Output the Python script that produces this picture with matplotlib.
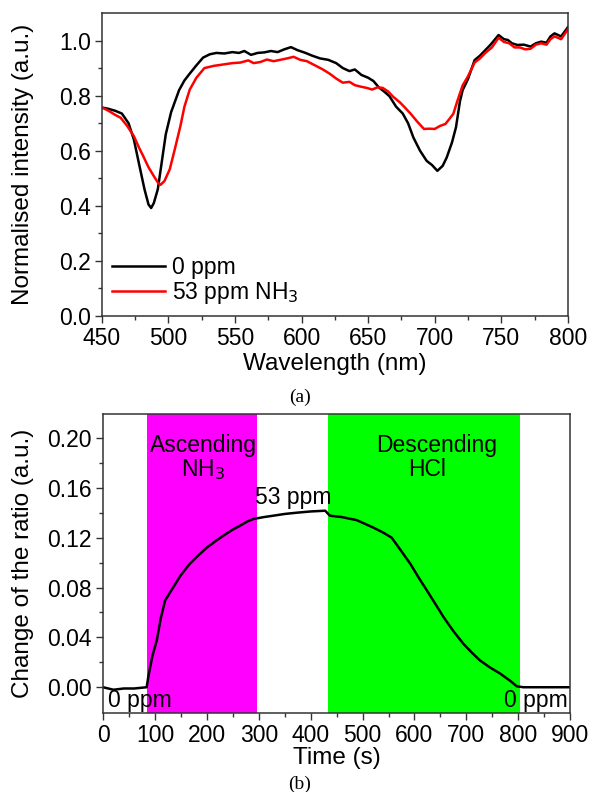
import numpy as np
import matplotlib
matplotlib.use("Agg")
import matplotlib.pyplot as plt

plt.rcParams['font.family'] = ['Liberation Sans', 'DejaVu Sans']

# (a) spectra
wl_0ppm = [450, 455, 460, 465, 470, 474, 478, 482, 485, 487, 489, 492, 495, 498, 502, 508, 512, 516, 521, 526,
           531, 536, 542, 548, 553, 557, 562, 567, 572, 577, 582, 587, 592, 597, 603, 608, 614, 620, 626, 631,
           636, 640, 645, 650, 654, 658, 662, 666, 671, 676, 680, 684, 689, 694, 698, 702, 706, 709, 713, 716,
           719, 721, 725, 730, 734, 737, 742, 748, 752, 755, 758, 762, 767, 772, 776, 780, 784, 787, 790, 795, 800]
int_0ppm = [0.757, 0.752, 0.745, 0.735, 0.70, 0.641, 0.55, 0.46, 0.405, 0.392, 0.41, 0.46, 0.56, 0.66, 0.74, 0.82,
            0.855, 0.88, 0.91, 0.938, 0.95, 0.955, 0.953, 0.958, 0.955, 0.962, 0.948, 0.955, 0.957, 0.962, 0.958,
            0.968, 0.976, 0.965, 0.955, 0.945, 0.935, 0.93, 0.918, 0.90, 0.889, 0.895, 0.875, 0.865, 0.853, 0.83,
            0.815, 0.798, 0.76, 0.735, 0.70, 0.648, 0.60, 0.563, 0.548, 0.527, 0.545, 0.575, 0.63, 0.685, 0.78,
            0.82, 0.86, 0.929, 0.945, 0.96, 0.985, 1.02, 1.005, 1.002, 0.99, 0.984, 0.985, 0.978, 0.99, 0.996,
            0.992, 1.015, 1.026, 1.015, 1.048]

wl_nh3 = [450, 455, 460, 464, 469, 474, 478, 481, 485, 489, 492, 494, 497, 501, 505, 509, 512, 516, 521, 527,
          534, 541, 548, 554, 560, 564, 569, 574, 579, 584, 589, 594, 599, 604, 610, 616, 621, 626, 631, 636,
          640, 645, 649, 653, 657, 661, 665, 669, 674, 678, 682, 687, 692, 696, 700, 704, 708, 711, 714, 717,
          721, 725, 730, 734, 738, 743, 748, 752, 756, 760, 764, 768, 772, 776, 780, 784, 787, 790, 795, 800]
int_nh3 = [0.757, 0.745, 0.73, 0.72, 0.69, 0.653, 0.61, 0.581, 0.54, 0.508, 0.485, 0.476, 0.49, 0.533, 0.61,
           0.69, 0.76, 0.822, 0.865, 0.90, 0.908, 0.913, 0.918, 0.92, 0.928, 0.918, 0.922, 0.931, 0.925, 0.93,
           0.935, 0.941, 0.93, 0.925, 0.91, 0.895, 0.88, 0.862, 0.847, 0.85, 0.838, 0.832, 0.828, 0.822, 0.83,
           0.828, 0.815, 0.795, 0.775, 0.755, 0.734, 0.705, 0.679, 0.68, 0.679, 0.69, 0.697, 0.715, 0.734, 0.78,
           0.837, 0.87, 0.92, 0.935, 0.955, 0.975, 1.01, 0.995, 0.99, 0.975, 0.975, 0.968, 0.97, 0.985, 0.99,
           0.985, 1.005, 1.015, 1.005, 1.04]

# (b) ratio vs time
time_s = [0, 20, 40, 60, 84, 87, 95, 103.5, 111, 119.5, 135, 150, 167, 184, 200, 216, 232, 248, 264, 278, 290,
          310, 328, 350, 373, 400, 428, 437, 460, 489, 505, 521, 540, 556, 575, 592, 608, 624, 640, 656, 675,
          694, 710, 726, 745, 765, 785, 797, 810, 850, 900]
ratio = [0.0, -0.002, -0.001, -0.001, 0.0, 0.008, 0.025, 0.0376, 0.055, 0.0696, 0.08, 0.09, 0.099, 0.106,
         0.112, 0.117, 0.1216, 0.126, 0.1296, 0.133, 0.135, 0.1365, 0.1376, 0.139, 0.140, 0.141, 0.1416, 0.1376,
         0.1365, 0.134, 0.131, 0.128, 0.124, 0.120, 0.109, 0.099, 0.088, 0.0776, 0.067, 0.0563, 0.045, 0.035,
         0.028, 0.0216, 0.016, 0.011, 0.005, 0.0008, 0.0, 0.0, 0.0]
ascend_span = (85, 296)
descend_span = (434, 804)

fig = plt.figure(figsize=(5.89, 7.92), dpi=100)
ax1 = fig.add_axes([0.173, 0.601, 0.791, 0.3826])
ax2 = fig.add_axes([0.175, 0.100, 0.793, 0.377])

tick_fs = 16.5
lab_fs = 17.5
txt_fs = 16.5

def style(ax):
    for s in ax.spines.values():
        s.set_linewidth(1.1)
        s.set_color('#333333')
    ax.tick_params(which='both', direction='out', labelsize=tick_fs, width=1.0, color='#333333', pad=3)
    ax.tick_params(which='major', length=5)
    ax.tick_params(which='minor', length=3)

# top panel
ax1.plot(wl_0ppm, int_0ppm, color='black', lw=1.8, label='0 ppm')
ax1.plot(wl_nh3, int_nh3, color='red', lw=1.8, label='53 ppm NH$_3$')
ax1.set_xlim(450, 800)
ax1.set_ylim(0, 1.1)
ax1.set_xticks(np.arange(450, 801, 50))
ax1.set_xticks(np.arange(475, 800, 50), minor=True)
ax1.set_yticks(np.arange(0, 1.01, 0.2))
ax1.set_yticks(np.arange(0.1, 1.1, 0.2), minor=True)
ax1.set_yticklabels([f'{v:.1f}' for v in np.arange(0, 1.01, 0.2)])
ax1.set_xlabel('Wavelength (nm)', fontsize=lab_fs, labelpad=2)
ax1.set_ylabel('Normalised intensity (a.u.)', fontsize=lab_fs, va='center')
ax1.yaxis.set_label_coords((23 - 102) / 466, 0.5)
ax1.legend(loc='lower left', frameon=False, fontsize=txt_fs, handlelength=2.3,
           borderaxespad=0.15, labelspacing=0.05, handletextpad=0.3, borderpad=0.3)
style(ax1)

# bottom panel
ax2.axvspan(*ascend_span, color='#ff00ff', lw=0)
ax2.axvspan(*descend_span, color='#00ff00', lw=0)
ax2.plot(time_s, ratio, color='black', lw=1.8)
ax2.set_xlim(0, 900)
ax2.set_ylim(-0.0205, 0.219)
ax2.set_xticks(np.arange(0, 901, 100))
ax2.set_xticks(np.arange(50, 900, 100), minor=True)
ax2.set_yticks(np.arange(0, 0.201, 0.04))
ax2.set_yticks(np.arange(0.02, 0.22, 0.04), minor=True)
ax2.set_yticklabels([f'{v:.2f}' for v in np.arange(0, 0.201, 0.04)])
ax2.set_xlabel('Time (s)', fontsize=lab_fs, labelpad=0)
ax2.set_ylabel('Change of the ratio (a.u.)', fontsize=lab_fs, va='center')
ax2.yaxis.set_label_coords((23 - 103) / 467, 0.5)
style(ax2)

ax2.text(193, 0.1936, 'Ascending', ha='center', va='center', fontsize=txt_fs)
ax2.text(193, 0.175, 'NH$_3$', ha='center', va='center', fontsize=txt_fs)
ax2.text(643, 0.1936, 'Descending', ha='center', va='center', fontsize=txt_fs)
ax2.text(624, 0.175, 'HCl', ha='center', va='center', fontsize=txt_fs)
ax2.text(367, 0.152, '53 ppm', ha='center', va='center', fontsize=txt_fs)
ax2.text(71, -0.0104, '0 ppm', ha='center', va='center', fontsize=txt_fs)
ax2.text(833, -0.0104, '0 ppm', ha='center', va='center', fontsize=txt_fs)

fig.text(300 / 589, 1 - 397 / 792, '(a)', ha='center', va='center', fontsize=14, family='Liberation Serif')
fig.text(300 / 589, 1 - 784 / 792, '(b)', ha='center', va='center', fontsize=14, family='Liberation Serif')

fig.savefig('out.png', dpi=100)
